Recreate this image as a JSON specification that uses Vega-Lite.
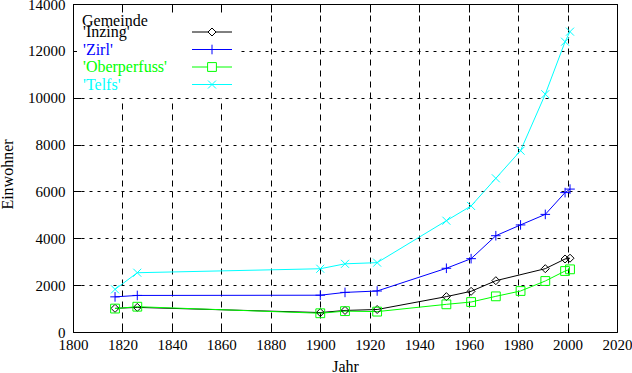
{
  "$schema": "https://vega.github.io/schema/vega-lite/v6.json",
  "width": 544,
  "height": 328,
  "autosize": "none",
  "padding": {"left": 73, "top": 4, "right": 15, "bottom": 41},
  "background": "white",
  "config": {
    "font": "Liberation Serif",
    "view": {"stroke": "black", "strokeWidth": 1},
    "axis": {
      "domain": false,
      "tickColor": "black",
      "tickWidth": 1,
      "labelColor": "black",
      "titleColor": "black",
      "labelFont": "Liberation Serif",
      "titleFont": "Liberation Serif",
      "labelFontSize": 15,
      "titleFontSize": 16,
      "titleFontWeight": "normal",
      "gridColor": "black",
      "gridOpacity": 1,
      "gridWidth": 1
    },
    "legend": {
      "labelFont": "Liberation Serif",
      "titleFont": "Liberation Serif",
      "labelFontSize": 16,
      "titleFontSize": 16,
      "titleFontWeight": "normal",
      "titleColor": "black"
    }
  },
  "data": {
    "values": [
      {"Gemeinde": "Inzing", "Jahr": 1817, "Einwohner": 1010},
      {"Gemeinde": "Inzing", "Jahr": 1826, "Einwohner": 1050},
      {"Gemeinde": "Inzing", "Jahr": 1900, "Einwohner": 830},
      {"Gemeinde": "Inzing", "Jahr": 1910, "Einwohner": 920},
      {"Gemeinde": "Inzing", "Jahr": 1923, "Einwohner": 960},
      {"Gemeinde": "Inzing", "Jahr": 1951, "Einwohner": 1510},
      {"Gemeinde": "Inzing", "Jahr": 1961, "Einwohner": 1736},
      {"Gemeinde": "Inzing", "Jahr": 1971, "Einwohner": 2190},
      {"Gemeinde": "Inzing", "Jahr": 1991, "Einwohner": 2703},
      {"Gemeinde": "Inzing", "Jahr": 1999, "Einwohner": 3116},
      {"Gemeinde": "Inzing", "Jahr": 2001, "Einwohner": 3150},
      {"Gemeinde": "Zirl", "Jahr": 1817, "Einwohner": 1500},
      {"Gemeinde": "Zirl", "Jahr": 1826, "Einwohner": 1560},
      {"Gemeinde": "Zirl", "Jahr": 1900, "Einwohner": 1570},
      {"Gemeinde": "Zirl", "Jahr": 1910, "Einwohner": 1690},
      {"Gemeinde": "Zirl", "Jahr": 1923, "Einwohner": 1750},
      {"Gemeinde": "Zirl", "Jahr": 1951, "Einwohner": 2720},
      {"Gemeinde": "Zirl", "Jahr": 1961, "Einwohner": 3130},
      {"Gemeinde": "Zirl", "Jahr": 1971, "Einwohner": 4110},
      {"Gemeinde": "Zirl", "Jahr": 1981, "Einwohner": 4570},
      {"Gemeinde": "Zirl", "Jahr": 1991, "Einwohner": 5020},
      {"Gemeinde": "Zirl", "Jahr": 1999, "Einwohner": 5950},
      {"Gemeinde": "Zirl", "Jahr": 2001, "Einwohner": 6100},
      {"Gemeinde": "Oberperfuss", "Jahr": 1817, "Einwohner": 1000},
      {"Gemeinde": "Oberperfuss", "Jahr": 1826, "Einwohner": 1080},
      {"Gemeinde": "Oberperfuss", "Jahr": 1900, "Einwohner": 800},
      {"Gemeinde": "Oberperfuss", "Jahr": 1910, "Einwohner": 890},
      {"Gemeinde": "Oberperfuss", "Jahr": 1923, "Einwohner": 870},
      {"Gemeinde": "Oberperfuss", "Jahr": 1951, "Einwohner": 1181},
      {"Gemeinde": "Oberperfuss", "Jahr": 1961, "Einwohner": 1280},
      {"Gemeinde": "Oberperfuss", "Jahr": 1971, "Einwohner": 1522},
      {"Gemeinde": "Oberperfuss", "Jahr": 1981, "Einwohner": 1750},
      {"Gemeinde": "Oberperfuss", "Jahr": 1991, "Einwohner": 2177},
      {"Gemeinde": "Oberperfuss", "Jahr": 1999, "Einwohner": 2603},
      {"Gemeinde": "Oberperfuss", "Jahr": 2001, "Einwohner": 2675},
      {"Gemeinde": "Telfs", "Jahr": 1817, "Einwohner": 1820},
      {"Gemeinde": "Telfs", "Jahr": 1826, "Einwohner": 2530},
      {"Gemeinde": "Telfs", "Jahr": 1900, "Einwohner": 2700},
      {"Gemeinde": "Telfs", "Jahr": 1910, "Einwohner": 2910},
      {"Gemeinde": "Telfs", "Jahr": 1923, "Einwohner": 2960},
      {"Gemeinde": "Telfs", "Jahr": 1951, "Einwohner": 4750},
      {"Gemeinde": "Telfs", "Jahr": 1961, "Einwohner": 5380},
      {"Gemeinde": "Telfs", "Jahr": 1971, "Einwohner": 6560},
      {"Gemeinde": "Telfs", "Jahr": 1981, "Einwohner": 7740},
      {"Gemeinde": "Telfs", "Jahr": 1991, "Einwohner": 10150},
      {"Gemeinde": "Telfs", "Jahr": 1999, "Einwohner": 12390},
      {"Gemeinde": "Telfs", "Jahr": 2001, "Einwohner": 12820}
    ]
  },
  "resolve": {"axis": {"x": "independent", "y": "independent"}},
  "layer": [
    {
      "mark": {"type": "line", "strokeWidth": 1},
      "encoding": {
        "x": {
          "field": "Jahr", "type": "quantitative",
          "scale": {"domain": [1800, 2020], "nice": false, "zero": false},
          "axis": {
            "orient": "bottom", "title": "Jahr",
            "values": [1800, 1820, 1840, 1860, 1880, 1900, 1920, 1940, 1960, 1980, 2000, 2020],
            "format": "d", "tickSize": -8, "labelPadding": 13, "labelFlush": false,
            "labelOverlap": false, "titlePadding": 6,
            "labelFont": "Liberation Serif", "titleFont": "Liberation Serif",
            "grid": true, "gridDash": [6, 5]
          }
        },
        "y": {
          "field": "Einwohner", "type": "quantitative",
          "scale": {"domain": [0, 14000], "nice": false},
          "axis": {
            "orient": "left", "title": "Einwohner",
            "values": [0, 2000, 4000, 6000, 8000, 10000, 12000, 14000],
            "format": "d", "tickSize": -8, "labelPadding": 16, "labelFlush": false,
            "labelOverlap": false, "titlePadding": 12, "titleY": 170,
            "labelFont": "Liberation Serif", "titleFont": "Liberation Serif",
            "grid": true, "gridDash": [3, 5]
          }
        },
        "color": {
          "field": "Gemeinde", "type": "nominal",
          "scale": {"domain": ["Inzing", "Zirl", "Oberperfuss", "Telfs"], "range": ["#000000", "#0000ff", "#00ff00", "#00ffff"]},
          "legend": {
            "title": "Gemeinde",
            "orient": "none",
            "legendX": 4,
            "legendY": 4,
            "padding": 5,
            "zindex": 2,
            "fillColor": "white",
            "strokeColor": null,
            "titlePadding": -5,
            "rowPadding": 1.5,
            "symbolOffset": 122,
            "labelOffset": -137,
            "symbolSize": 64,
            "symbolOpacity": 1,
            "symbolStrokeWidth": 1,
            "labelExpr": "\"'\" + datum.label + \"'\"",
            "encode": {
              "labels": {
                "update": {
                  "fill": {"signal": "scale('color', datum.value)"}
                }
              }
            }
          }
        }
      }
    },
    {
      "encoding": {
        "x": {
          "field": "Jahr", "type": "quantitative",
          "axis": {
            "orient": "top", "title": null, "labels": false, "grid": false, "zindex": 3,
            "values": [1800, 1820, 1840, 1860, 1880, 1900, 1920, 1940, 1960, 1980, 2000, 2020],
            "tickSize": -8
          }
        },
        "y": {
          "field": "Einwohner", "type": "quantitative",
          "axis": {
            "orient": "right", "title": null, "labels": false, "grid": false, "zindex": 3,
            "values": [0, 2000, 4000, 6000, 8000, 10000, 12000, 14000],
            "tickSize": -8
          }
        },
        "color": {"field": "Gemeinde", "type": "nominal"}
      },
      "layer": [
        {
          "transform": [{"filter": "datum.Gemeinde === 'Inzing'"}],
          "mark": {"type": "point", "filled": false, "strokeWidth": 1, "size": 64, "opacity": 1, "shape": "M0,-1L1,0L0,1L-1,0Z"}
        },
        {
          "transform": [{"filter": "datum.Gemeinde === 'Zirl'"}],
          "mark": {"type": "point", "filled": false, "strokeWidth": 1, "size": 64, "opacity": 1, "shape": "M-1.2,0H1.2M0,-1.2V1.2"}
        },
        {
          "transform": [{"filter": "datum.Gemeinde === 'Oberperfuss'"}],
          "mark": {"type": "point", "filled": false, "strokeWidth": 1, "size": 64, "opacity": 1, "shape": "M-1.1,-1.1H1.1V1.1H-1.1Z"}
        },
        {
          "transform": [{"filter": "datum.Gemeinde === 'Telfs'"}],
          "mark": {"type": "point", "filled": false, "strokeWidth": 1, "size": 64, "opacity": 1, "shape": "M-1,-1L1,1M-1,1L1,-1"}
        }
      ]
    },
    {
      "mark": {"type": "point", "filled": false, "strokeWidth": 1, "size": 64, "opacity": 0},
      "encoding": {
        "x": {"field": "Jahr", "type": "quantitative", "axis": null},
        "y": {"field": "Einwohner", "type": "quantitative", "axis": null},
        "color": {"field": "Gemeinde", "type": "nominal"},
        "shape": {
          "field": "Gemeinde", "type": "nominal",
          "scale": {"domain": ["Inzing", "Zirl", "Oberperfuss", "Telfs"], "range": ["M-5,0H-1M1,0H5M0,-1L1,0L0,1L-1,0Z", "M-5,0H5M0,-1.2V1.2", "M-5,0H-1.1M1.1,0H5M-1.1,-1.1H1.1V1.1H-1.1Z", "M-5,0H5M-1,-1L1,1M-1,1L1,-1"]},
          "legend": {
            "title": "Gemeinde",
            "orient": "none",
            "legendX": 4,
            "legendY": 4,
            "padding": 5,
            "zindex": 2,
            "fillColor": "white",
            "strokeColor": null,
            "titlePadding": -5,
            "rowPadding": 1.5,
            "symbolOffset": 122,
            "labelOffset": -137,
            "symbolSize": 64,
            "symbolOpacity": 1,
            "symbolStrokeWidth": 1,
            "labelExpr": "\"'\" + datum.label + \"'\""
          }
        }
      }
    }
  ]
}
